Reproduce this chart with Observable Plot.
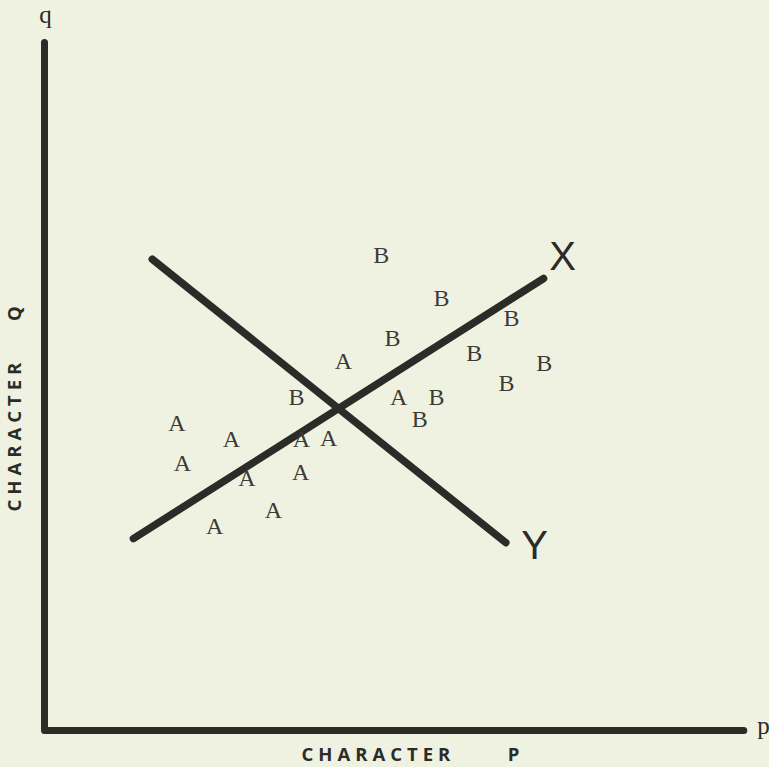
<!DOCTYPE html>
<html>
<head>
<meta charset="utf-8">
<script src="https://cdn.jsdelivr.net/npm/d3@7"></script>
<script src="https://cdn.jsdelivr.net/npm/@observablehq/plot@0.6"></script>
<style>
  html, body { margin: 0; padding: 0; background: #eff2e1; }
  #chart svg { display: block; }
</style>
</head>
<body>
<div id="chart"></div>
<script>
// Individuals of group A, as (character p, character q)
const groupA = [
  [42.7, 53.6], [50.6, 48.5], [18.9, 44.6], [26.7, 42.3], [36.7, 42.3],
  [40.6, 42.4], [19.7, 38.8], [28.9, 36.6], [36.6, 37.5], [32.7, 32.0],
  [24.3, 29.7]
];
// Individuals of group B
const groupB = [
  [48.1, 69.0], [56.7, 62.8], [66.7, 59.9], [49.7, 57.0], [61.4, 54.8],
  [71.4, 53.3], [66.0, 50.4], [56.0, 48.5], [53.6, 45.2], [36.0, 48.4]
];
// The two derived axes through the cloud of points
const lineX = [[12.7, 27.9], [71.3, 65.7]];
const lineY = [[15.4, 68.5], [65.9, 27.3]];
const lineLabels = [
  {name: "X", p: 74.0, q: 68.75},
  {name: "Y", p: 70.0, q: 26.8}
];
// Frame of the character space
const frame = [[0, 100], [0, 0], [99.9, 0]];
const axisEnds = [
  {name: "q", p: 0.15, q: 104.0},
  {name: "p", p: 102.7, q: 0.7}
];
const axisTitles = [
  {text: "CHARACTER", p: 47.7, q: -3.57, rotate: 0},
  {text: "P", p: 67.0, q: -3.57, rotate: 0},
  {text: "CHARACTER", p: -4.15, q: 43.0, rotate: -90},
  {text: "Q", p: -4.15, q: 60.6, rotate: -90}
];

const ink = "#2b2b28";

const chart = Plot.plot({
  width: 769,
  height: 767,
  marginLeft: 44,
  marginRight: 25,
  marginTop: 42,
  marginBottom: 37,
  x: {domain: [0, 100], axis: null},
  y: {domain: [0, 100], axis: null},
  style: {background: "#eff2e1", overflow: "visible"},
  marks: [
    Plot.line(frame, {x: d => d[0], y: d => d[1], stroke: ink, strokeWidth: 7,
      strokeLinecap: "round", strokeLinejoin: "round"}),
    Plot.line(lineX, {x: d => d[0], y: d => d[1], stroke: ink, strokeWidth: 7.5, strokeLinecap: "round"}),
    Plot.line(lineY, {x: d => d[0], y: d => d[1], stroke: ink, strokeWidth: 7.5, strokeLinecap: "round"}),
    Plot.text(groupA, {x: d => d[0], y: d => d[1], text: () => "A", fill: "#3a3a36",
      fontFamily: "Liberation Serif", fontSize: 24}),
    Plot.text(groupB, {x: d => d[0], y: d => d[1], text: () => "B", fill: "#3a3a36",
      fontFamily: "Liberation Serif", fontSize: 24}),
    Plot.text(lineLabels, {x: "p", y: "q", text: "name", fill: ink,
      fontFamily: "Liberation Sans", fontSize: 40}),
    Plot.text(axisEnds, {x: "p", y: "q", text: "name", fill: ink,
      fontFamily: "Liberation Serif", fontSize: 25}),
    Plot.text(axisTitles.filter(d => d.rotate === 0), {x: "p", y: "q", text: "text", fill: ink,
      fontFamily: "Open Sans", fontWeight: "bold", fontSize: 18.5}),
    Plot.text(axisTitles.filter(d => d.rotate !== 0), {x: "p", y: "q", text: "text", fill: ink,
      rotate: -90, fontFamily: "Open Sans", fontWeight: "bold", fontSize: 18.5})
  ]
});

// Spread out the letters of the axis titles
d3.select(chart).selectAll("text")
  .filter(function () { return this.textContent === "CHARACTER"; })
  .style("letter-spacing", "5px");

document.getElementById("chart").append(chart);
</script>
</body>
</html>
